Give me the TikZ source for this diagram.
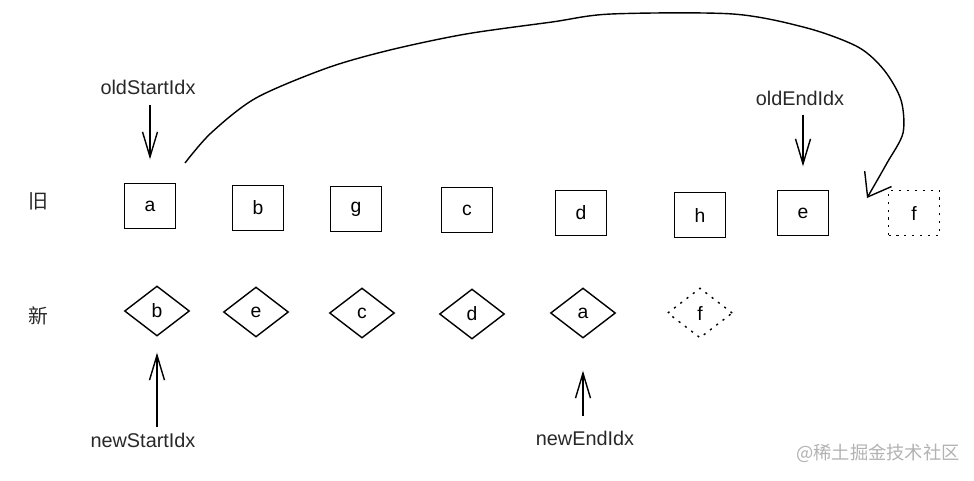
\documentclass[tikz,border=0pt]{standalone}
\usepackage{fontspec}
\setmainfont{Liberation Sans}
\newfontfamily\cjk{Noto Sans CJK SC}
\usetikzlibrary{positioning,shapes.geometric,arrows.meta}

\definecolor{ink}{RGB}{40,40,40}
\tikzstyle{arrow} = [line width=0.8pt,-{Straight Barb[length=0.5cm,width=0.3cm]}]
\tikzstyle{bigarrow} = [line width=0.8pt,-{Straight Barb[length=0.42cm,width=0.62cm]}]
\tikzstyle{oldbox} = [draw, line width=0.8pt, minimum width=1.02cm, minimum height=0.9cm, inner sep=0pt, font=\fontsize{11}{13}\selectfont]
\tikzstyle{newbox} = [draw, diamond, line width=0.8pt, minimum width=1.3cm, minimum height=1cm, inner sep=0pt, font=\fontsize{11}{13}\selectfont]
\tikzstyle{ghost} = [dash pattern=on 1.2pt off 3.3pt]
\tikzstyle{idxlabel} = [text=ink, font=\fontsize{11.3}{13}\selectfont]

\begin{document}
\begin{tikzpicture}[node distance=2cm]
\useasboundingbox (0,0) rectangle (19.48,-9.6);

\node (oldrow) [idxlabel] at (0.76,-4.02) {\cjk 旧};
\node (newrow) [idxlabel] at (0.76,-6.32) {\cjk 新};

\node (oa) [oldbox] at (3.0,-4.12) {a};
\node (ob) [oldbox, right of=oa, xshift=0.16cm, yshift=-0.04cm] {b};
\node (og) [oldbox, right of=ob, xshift=-0.04cm, yshift=-0.02cm] {g};
\node (oc) [oldbox, right of=og, xshift=0.22cm, yshift=-0.02cm] {c};
\node (od) [oldbox, right of=oc, xshift=0.28cm, yshift=-0.06cm] {d};
\node (oh) [oldbox, right of=od, xshift=0.38cm, yshift=-0.04cm] {h};
\node (oe) [oldbox, right of=oh, xshift=0.06cm, yshift=0.04cm] {e};
\node (of) [oldbox, ghost, right of=oe, xshift=0.22cm] {f};

\node (nb) [newbox] at (3.14,-6.22) {b};
\node (ne) [newbox, right of=nb, xshift=-0.02cm, yshift=-0.02cm] {e};
\node (nc) [newbox, right of=ne, xshift=0.12cm, yshift=-0.02cm] {c};
\node (nd) [newbox, right of=nc, xshift=0.2cm, yshift=-0.02cm] {d};
\node (na) [newbox, right of=nd, xshift=0.22cm, yshift=0.02cm] {a};
\node (nf) [newbox, ghost, right of=na, xshift=0.34cm] {f};

\node (osi) [idxlabel] at (2.96,-1.74) {oldStartIdx};
\node (oei) [idxlabel] at (16.0,-1.96) {oldEndIdx};
\node (nsi) [idxlabel] at (2.86,-8.8) {newStartIdx};
\node (nei) [idxlabel] at (11.7,-8.76) {newEndIdx};

\draw [arrow, shorten <=0.08cm, shorten >=0.47cm] (oa |- osi.south) -- (oa);
\draw [arrow, shorten <=0.06cm, shorten >=0.47cm] (oe |- oei.south) -- (oe);
\draw [arrow, shorten >=0.32cm] (nb |- nsi.north) -- (nb);
\draw [arrow, shorten <=0.18cm, shorten >=0.64cm] (na |- nei.north) -- (na);

% move a to the end
\coordinate (loopstart) at (3.7,-3.26);
\coordinate (loopend) at (17.34,-3.96);
\draw [bigarrow] plot [smooth] coordinates {(loopstart) (4.22,-2.66) (5.12,-1.96) (6.54,-1.36) (7.8,-1.0) (9.32,-0.68) (11.04,-0.44) (12.22,-0.28) (14.66,-0.28) (16.14,-0.56) (17.16,-0.94) (17.68,-1.4) (18.02,-2.0) (18.06,-2.66) (17.74,-3.26) (loopend)};

\node (mark) [text=gray!60, font=\fontsize{10.4}{12}\selectfont] at (17.56,-9.06) {\cjk @稀土掘金技术社区};

\end{tikzpicture}
\end{document}
